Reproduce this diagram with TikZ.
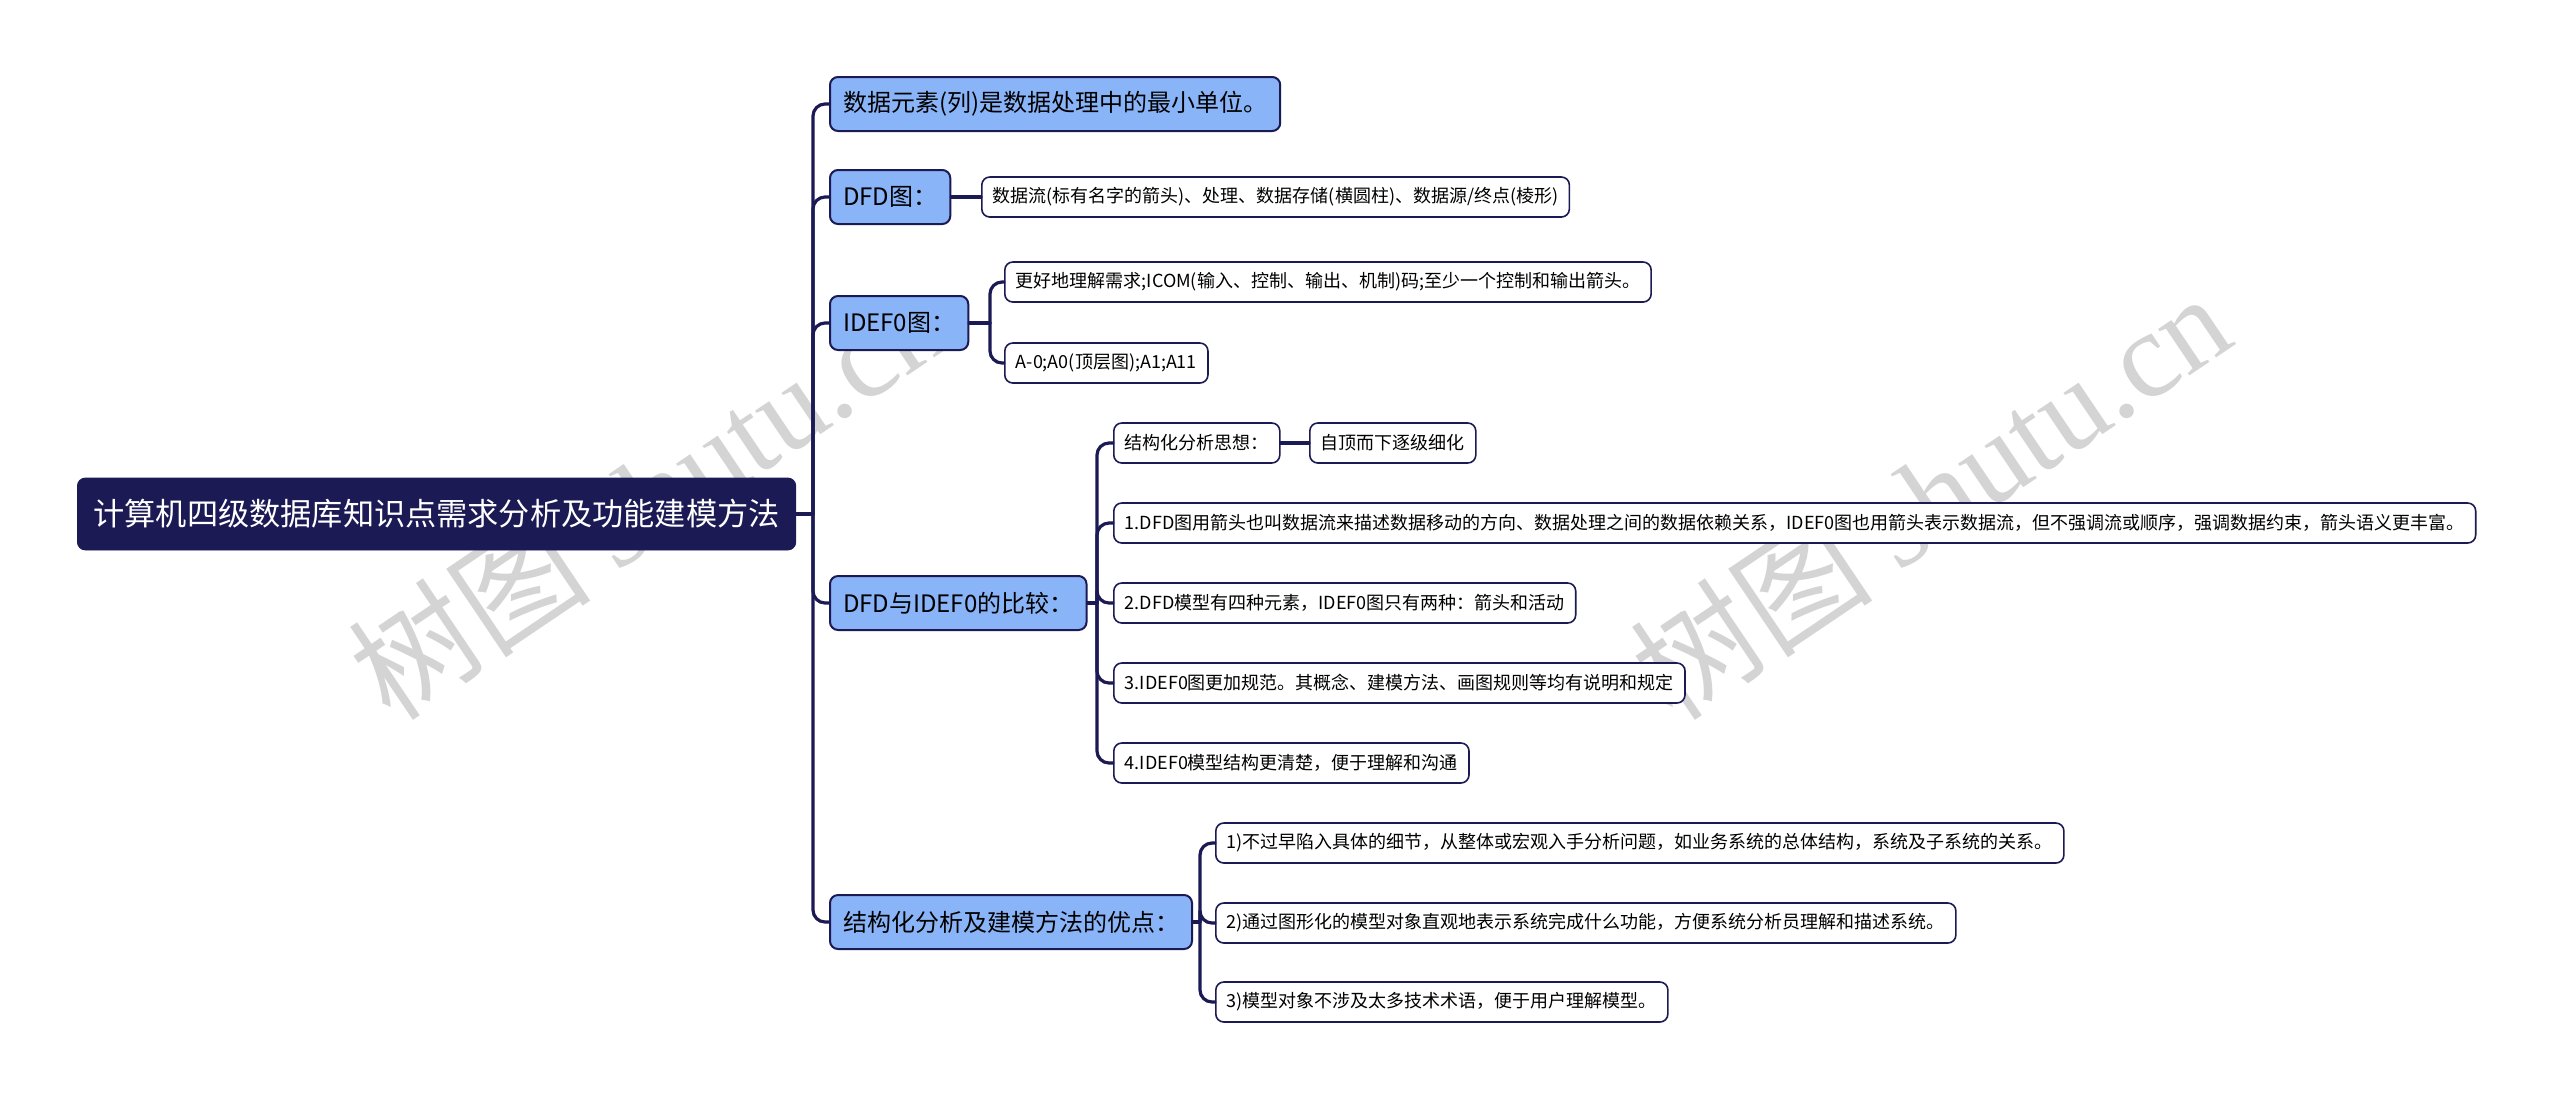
\documentclass[tikz,border=0pt]{standalone}
\usepackage{fontspec}
\setmainfont{Noto Sans CJK SC}
\newfontfamily\wmserif{Liberation Serif}
\usetikzlibrary{positioning}
\definecolor{navy}{RGB}{27,26,84}
\definecolor{skyfill}{RGB}{138,180,248}
\definecolor{wmgray}{RGB}{212,212,212}

\begin{document}
\begin{tikzpicture}[x=0.5pt,y=-0.5pt,line join=round,line cap=round,
	rootnode/.style={fill=navy,draw=navy,rounded corners=4pt,text=white,font=\fontsize{15.6}{18}\selectfont,inner xsep=8pt,minimum height=36pt,anchor=west},
	topic/.style={fill=skyfill,draw=navy,line width=1pt,rounded corners=4pt,font=\fontsize{12}{14}\selectfont,inner xsep=6.5pt,minimum height=27pt,anchor=west},
	leaf/.style={fill=white,draw=navy,line width=0.8pt,rounded corners=4pt,font=\fontsize{9}{11}\selectfont,inner xsep=5.5pt,minimum height=20pt,anchor=west},
	link/.style={draw=navy,line width=1.6pt,rounded corners=6pt},
	wmark/.style={text=wmgray,rotate=34,font=\fontsize{61}{66}\selectfont}]
	\fill[white] (0,0) rectangle (2560,1100);
	\useasboundingbox (0,0) rectangle (2560,1100);
	% watermark
	\node[wmark] (wmleft) at (648,495) {树图 {\wmserif shutu.cn}};
	\node[wmark] (wmright) at (1930,495) {树图 {\wmserif shutu.cn}};
	% root and main topics
	\node[rootnode] (root) at (77,514) {计算机四级数据库知识点需求分析及功能建模方法};
	\node[topic] (unit) at (829,104) {数据元素(列)是数据处理中的最小单位。};
	\node[topic] (dfd) at (829,197) {DFD图：};
	\node[topic] (idef) at (829,323) {IDEF0图：};
	\node[topic] (cmp) at (829,603) {DFD与IDEF0的比较：};
	\node[topic] (merit) at (829,922) {结构化分析及建模方法的优点：};
	% leaves
	\node[leaf] (dfdparts) at (981,197) {数据流(标有名字的箭头)、处理、数据存储(横圆柱)、数据源/终点(棱形)};
	\node[leaf] (idefa) at (1004,282) {更好地理解需求;ICOM(输入、控制、输出、机制)码;至少一个控制和输出箭头。};
	\node[leaf] (idefb) at (1004,363) {A-0;A0(顶层图);A1;A11};
	\node[leaf] (cmp0) at (1113,443) {结构化分析思想：};
	\node[leaf] (cmp0x) at (1309,443) {自顶而下逐级细化};
	\foreach \y/\t [count=\i] in {523/{1.DFD图用箭头也叫数据流来描述数据移动的方向、数据处理之间的数据依赖关系，IDEF0图也用箭头表示数据流，但不强调流或顺序，强调数据约束，箭头语义更丰富。},
		603/{2.DFD模型有四种元素，IDEF0图只有两种：箭头和活动},
		683/{3.IDEF0图更加规范。其概念、建模方法、画图规则等均有说明和规定},
		763/{4.IDEF0模型结构更清楚，便于理解和沟通}}
	\node[leaf] (cmp\i) at (1113,\y) {\t};
	\foreach \y/\t [count=\i] in {843/{1)不过早陷入具体的细节，从整体或宏观入手分析问题，如业务系统的总体结构，系统及子系统的关系。},
		923/{2)通过图形化的模型对象直观地表示系统完成什么功能，方便系统分析员理解和描述系统。},
		1002/{3)模型对象不涉及太多技术术语，便于用户理解模型。}}
	\node[leaf] (merit\i) at (1215,\y) {\t};
	% connectors
	\coordinate (rootbus) at (813,514);
	\draw[link] (root.east) -- (rootbus);
	\foreach \n in {unit,dfd,idef,cmp,merit}
	\draw[link] (rootbus) |- (\n.west);
	\draw[link] (dfd.east) -- (dfdparts.west);
	\coordinate (idefbus) at (990,323);
	\draw[link] (idef.east) -- (idefbus);
	\foreach \n in {idefa,idefb}
	\draw[link] (idefbus) |- (\n.west);
	\coordinate (cmpbus) at (1097,603);
	\draw[link] (cmp.east) -- (cmpbus);
	\foreach \n in {cmp0,cmp1,cmp2,cmp3,cmp4}
	\draw[link] (cmpbus) |- (\n.west);
	\draw[link] (cmp0.east) -- (cmp0x.west);
	\coordinate (meritbus) at (1200,922);
	\draw[link] (merit.east) -- (meritbus);
	\foreach \n in {merit1,merit2,merit3}
	\draw[link] (meritbus) |- (\n.west);
\end{tikzpicture}
\end{document}
